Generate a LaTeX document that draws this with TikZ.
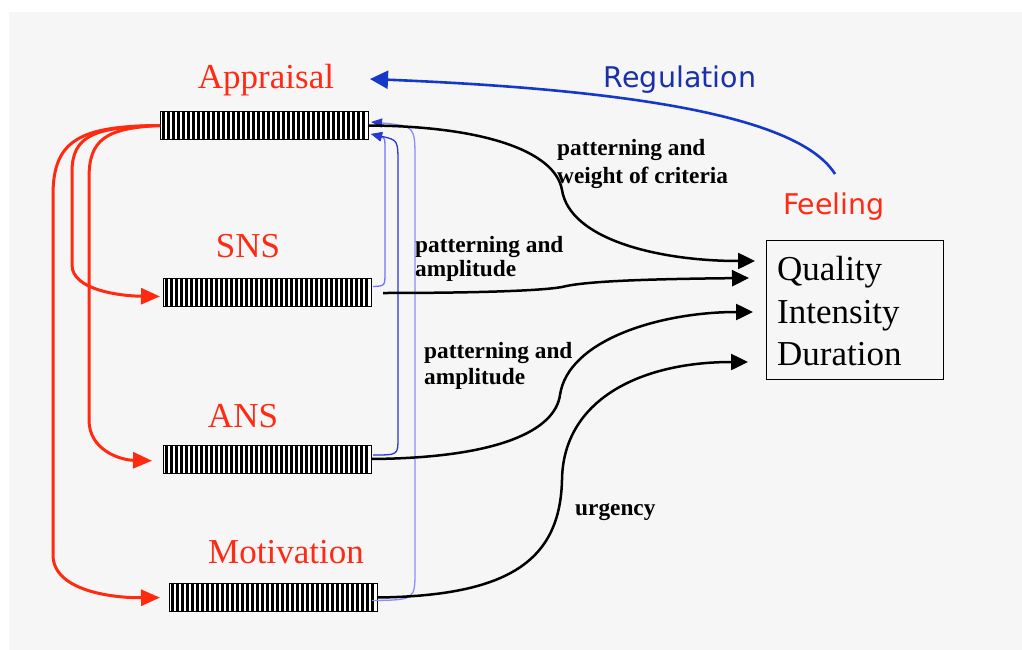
\documentclass[tikz,border=0pt]{standalone}
\usepackage{fontspec}
\setmainfont{Liberation Serif}
\newfontfamily\labsans{DejaVu Sans}
\usetikzlibrary{calc,arrows.meta}

\definecolor{bgpanel}{HTML}{F6F6F6}
\definecolor{lblred}{HTML}{FF2A14}
\definecolor{arrred}{HTML}{FF2A10}
\definecolor{regblue}{HTML}{1438C8}
\definecolor{regtext}{HTML}{1A30A8}
\definecolor{fbtip}{HTML}{2838D0}

\begin{document}
\begin{tikzpicture}[x=1pt,y=-1pt,
  barbox/.style={draw=black, line width=1pt, fill=white, minimum width=208pt,
    minimum height=28pt, inner sep=0pt, outer sep=0pt,
    path picture={
      \coordinate (bsw) at (path picture bounding box.south west);
      \coordinate (bne) at (path picture bounding box.north east);
      \foreach \k in {0,...,40}{
        \fill[black] ($(bsw)+(\k*5+2,0)$) rectangle ($(bsw|-bne)+(\k*5+5,0)$);
      }
    }},
  bigred/.style={text=lblred, font=\fontsize{35}{40}\selectfont, inner sep=0pt, anchor=base},
  sanslab/.style={font=\labsans\fontsize{28.5}{32}\selectfont, inner sep=0pt, anchor=base},
  smlab/.style={font=\bfseries\fontsize{23.3}{27}\selectfont, inner sep=0pt, anchor=base west},
  boxtxt/.style={font=\fontsize{35}{40}\selectfont, inner sep=0pt, anchor=base west},
  redarrow/.style={draw=arrred, line width=3pt, -{Triangle[length=19pt,width=16pt]}},
  blkarrow/.style={draw=black, line width=2.5pt, -{Triangle[length=17pt,width=16pt]}},
  fbline/.style={line width=1.3pt, -{Triangle[length=11pt,width=9pt,fill=fbtip,color=fbtip]}},
]
% canvas and panel
\fill[white] (0,0) rectangle (1022,650);
\useasboundingbox (0,0) rectangle (1022,650);
\fill[bgpanel] (9,12) rectangle (1022,650);

% striped bars
\node[barbox] (app) at (264,125.5) {};
\node[barbox] (sns) at (267,292.5) {};
\node[barbox] (ans) at (267,459) {};
\node[barbox] (mot) at (273,597.5) {};

% bar titles
\node[bigred] (aplab) at (266,89) {Appraisal};
\node[bigred] (snslab) at (248,257) {SNS};
\node[bigred] (anslab) at (243,427) {ANS};
\node[bigred] (motlab) at (286,563) {Motivation};

% feeling box
\node[draw=black, line width=1pt, fill=none, minimum width=177pt, minimum height=139pt,
      inner sep=0pt, anchor=north west] (box) at (766,240) {};
\node[boxtxt] (qual) at (777,280) {Quality};
\node[boxtxt] (inten) at (777,323) {Intensity};
\node[boxtxt] (dur) at (777,365) {Duration};

\node[sanslab, text=lblred] (feel) at (834,214) {Feeling};
\node[sanslab, text=regtext] (reglab) at (680,88) {Regulation};

% edge labels
\node[smlab] (l1a) at (557,155) {patterning and};
\node[smlab] (l1b) at (557,183) {weight of criteria};
\node[smlab] (l2a) at (415,252) {patterning and};
\node[smlab] (l2b) at (415,276) {amplitude};
\node[smlab] (l3a) at (424,358) {patterning and};
\node[smlab] (l3b) at (424,384) {amplitude};
\node[smlab] (l4) at (575,515) {urgency};

% arrow ends near the box
\coordinate (t1) at (755,261);
\coordinate (t2) at (749,278);
\coordinate (t3) at (753,312);
\coordinate (t4) at (748,362);
\coordinate (lowtip) at (371,134);
\coordinate (uptip) at (371,122);
\coordinate (regfrom) at (835,174);
\coordinate (regto) at (370,79);

% appraisal drives the other components
\draw[redarrow, shorten >=9pt] (app.west) .. controls (80,126) and (53,140) .. (53,195)
   -- (53,555) .. controls (53,590) and (110,598) .. (mot.west);
\draw[redarrow, shorten >=3pt] (app.west) .. controls (95,127) and (72,135) .. (72,172)
   -- (72,265) .. controls (72,290) and (120,296) .. ([yshift=-4pt]sns.west);
\draw[redarrow, shorten >=11pt] (app.west) .. controls (105,128) and (89,140) .. (89,178)
   -- (89,420) .. controls (89,450) and (120,460) .. ([yshift=-2pt]ans.west);

% feedback to appraisal
\draw[fbline, draw=blue!55!white] ($(sns.east)+(2,-6)$) .. controls (385,286) .. (385,272)
   -- (385,152) .. controls (385,138) .. (lowtip);
\draw[fbline, draw=fbtip] ($(ans.east)+(2,-4)$) .. controls (398,455) .. (398,438)
   -- (398,165) .. controls (398,140) .. (lowtip);
\draw[fbline, draw=blue!45!white] ($(mot.east)+(-5,3)$) .. controls (415,600) .. (415,570)
   -- (415,160) .. controls (415,126) .. (uptip);

% components feed the feeling
\draw[blkarrow] (app.east) .. controls (480,126) and (555,150) .. (562,190)
   .. controls (570,240) and (660,261) .. (t1);
\draw[blkarrow] ([xshift=12pt,yshift=-0.5pt]sns.east) .. controls (470,293) and (540,291) .. (562,287)
   .. controls (585,281) and (650,279) .. (t2);
\draw[blkarrow] (ans.east) .. controls (500,458) and (555,430) .. (560,395)
   .. controls (568,340) and (660,312) .. (t3);
\draw[blkarrow] (mot.east) .. controls (510,596) and (560,560) .. (562,480)
   .. controls (563,400) and (640,362) .. (t4);

% regulation loop
\draw[regblue, line width=2.6pt, -{Triangle[length=18pt,width=18pt]}]
   (regfrom) .. controls (800,118) and (640,90) .. (regto);
\end{tikzpicture}
\end{document}
